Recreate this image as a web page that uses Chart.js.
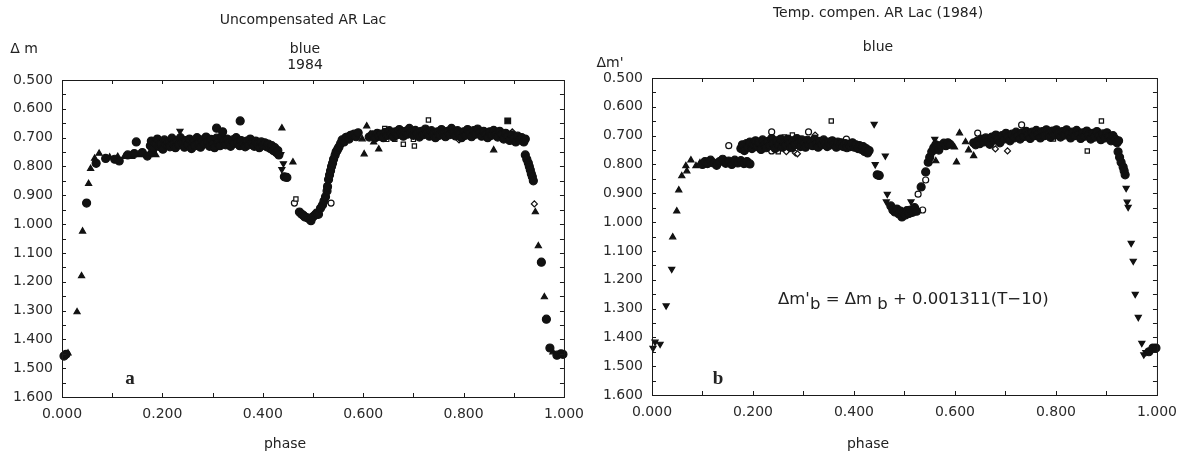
<!DOCTYPE html>
<html>
<head>
<meta charset="utf-8">
<script src="https://cdn.jsdelivr.net/npm/chart.js@4.4.1/dist/chart.umd.min.js"></script>
<style>
  body { margin: 0; background: #fff; width: 1186px; height: 460px; overflow: hidden; position: relative;
         font-family: "DejaVu Sans", sans-serif; color: #222; }
  .panel { position: absolute; top: 0; width: 593px; height: 460px; }
  .t { position: absolute; white-space: nowrap; transform: translate(-50%, -50%); font-size: 14px; }
  .tag { font-family: "Liberation Serif", serif; font-weight: bold; font-size: 19px; }
  .eq { position: absolute; white-space: nowrap; transform: translateY(-50%); font-size: 16.5px; }
  .eq sub { font-size: 16.5px; vertical-align: -5px; line-height: 0; }
</style>
</head>
<body>
<div class="panel" style="left:0"><canvas id="chartA"></canvas></div>
<div class="panel" style="left:593px"><canvas id="chartB"></canvas></div>

<div class="t" style="left:303px;top:19px">Uncompensated AR Lac</div>
<div class="t" style="left:305px;top:48px">blue</div>
<div class="t" style="left:305px;top:64px">1984</div>
<div class="t" style="left:24px;top:48px">Δ m</div>
<div class="t" style="left:285px;top:443px">phase</div>
<div class="t tag" style="left:130px;top:378px">a</div>

<div class="t" style="left:878px;top:12px">Temp. compen. AR Lac (1984)</div>
<div class="t" style="left:878px;top:46px">blue</div>
<div class="t" style="left:610px;top:62px">Δm'</div>
<div class="t" style="left:868px;top:443px">phase</div>
<div class="t tag" style="left:718px;top:378px">b</div>
<div class="eq" style="left:778px;top:298px">Δm'<sub>b</sub> = Δm<sub> b</sub> + 0.001311(T−10)</div>

<script>
// axis ticks
const yTickMarks = [0.55, 0.6, 0.65, 0.7, 0.75, 0.8, 0.85, 0.9, 0.95, 1.0, 1.05, 1.1, 1.15, 1.2, 1.25, 1.3, 1.35, 1.4, 1.45, 1.5, 1.55];
const xTickMarks = [0.1, 0.2, 0.3, 0.4, 0.5, 0.6, 0.7, 0.8, 0.9];

// ---- panel a : uncompensated ----
const aDotPhase = [0.004, 0.008, 0.965, 0.972, 0.986, 0.994, 0.998, 0.955,
  0.049, 0.068, 0.087, 0.105, 0.114, 0.131, 0.144, 0.148, 0.160, 0.170, 0.180,
  0.176, 0.178, 0.182, 0.186, 0.190, 0.193, 0.197, 0.201, 0.204, 0.208, 0.212, 0.215, 0.219, 0.222, 0.226, 0.229,
  0.233, 0.236, 0.240, 0.244, 0.247, 0.251, 0.254, 0.258, 0.262, 0.265, 0.269, 0.272, 0.276, 0.279, 0.283, 0.287,
  0.290, 0.294, 0.297, 0.301, 0.304, 0.308, 0.311, 0.315, 0.318, 0.322, 0.326, 0.329, 0.333, 0.336, 0.340, 0.343,
  0.347, 0.350, 0.354, 0.357, 0.361, 0.365, 0.368, 0.372, 0.375, 0.379, 0.383, 0.386, 0.390, 0.393, 0.397, 0.401,
  0.404, 0.408, 0.411, 0.415, 0.418, 0.421, 0.424, 0.427, 0.430, 0.432,
  0.308, 0.320, 0.355,
  0.443, 0.448, 0.473, 0.477, 0.481, 0.484, 0.489, 0.493, 0.496, 0.499, 0.503, 0.507, 0.511, 0.515, 0.519, 0.522,
  0.525, 0.528, 0.529, 0.531, 0.533, 0.535, 0.537, 0.539, 0.541, 0.544, 0.546, 0.548, 0.550, 0.552, 0.555, 0.558,
  0.562, 0.565, 0.568, 0.572, 0.575, 0.578, 0.582, 0.586, 0.590, 0.612, 0.618, 0.624, 0.628,
  0.632, 0.636, 0.640, 0.644, 0.648, 0.652, 0.656, 0.660, 0.664, 0.668, 0.672, 0.676, 0.680, 0.684, 0.688, 0.692,
  0.696, 0.700, 0.704, 0.708, 0.712, 0.716, 0.720, 0.724, 0.728, 0.732, 0.736, 0.740, 0.744, 0.748, 0.752, 0.756,
  0.760, 0.764, 0.768, 0.772, 0.776, 0.780, 0.784, 0.788, 0.792, 0.796, 0.800, 0.804, 0.808, 0.812, 0.816, 0.820,
  0.824, 0.828, 0.832, 0.836, 0.840, 0.844, 0.848, 0.852, 0.856, 0.860, 0.864, 0.868, 0.872, 0.876, 0.880, 0.884,
  0.888, 0.892, 0.896, 0.900, 0.904, 0.908, 0.912, 0.916, 0.920, 0.923,
  0.923, 0.926, 0.929, 0.931, 0.933, 0.935, 0.937, 0.939];
const aDotMag = [1.458, 1.452, 1.330, 1.430, 1.455, 1.450, 1.452, 1.132,
  0.927, 0.789, 0.772, 0.775, 0.781, 0.760, 0.755, 0.715, 0.752, 0.764, 0.752,
  0.728, 0.712, 0.738, 0.718, 0.705, 0.730, 0.722, 0.740, 0.708, 0.725, 0.715, 0.732, 0.702, 0.722, 0.735, 0.712,
  0.725, 0.700, 0.718, 0.733, 0.710, 0.724, 0.705, 0.738, 0.716, 0.728, 0.700, 0.720, 0.733, 0.708, 0.722, 0.698,
  0.715, 0.730, 0.706, 0.720, 0.735, 0.702, 0.718, 0.728, 0.698, 0.712, 0.725, 0.705, 0.718, 0.730, 0.708, 0.720,
  0.700, 0.715, 0.728, 0.710, 0.722, 0.732, 0.712, 0.725, 0.705, 0.718, 0.730, 0.712, 0.722, 0.735, 0.715, 0.726,
  0.718, 0.732, 0.722, 0.738, 0.728, 0.745, 0.735, 0.752, 0.745, 0.760,
  0.667, 0.680, 0.642,
  0.836, 0.838, 0.958, 0.965, 0.970, 0.975, 0.978, 0.982, 0.988, 0.976, 0.970, 0.962, 0.966, 0.945, 0.934, 0.920,
  0.905, 0.885, 0.870, 0.845, 0.830, 0.815, 0.800, 0.789, 0.775, 0.761, 0.750, 0.745, 0.738, 0.732, 0.720, 0.708,
  0.715, 0.700, 0.698, 0.705, 0.692, 0.691, 0.688, 0.697, 0.683, 0.698, 0.690, 0.700, 0.685,
  0.695, 0.688, 0.700, 0.682, 0.692, 0.676, 0.688, 0.698, 0.680, 0.690, 0.672, 0.685, 0.695, 0.678, 0.688, 0.668,
  0.682, 0.692, 0.675, 0.686, 0.698, 0.678, 0.690, 0.670, 0.684, 0.695, 0.676, 0.688, 0.700, 0.680, 0.692, 0.672,
  0.686, 0.697, 0.678, 0.690, 0.668, 0.683, 0.694, 0.676, 0.688, 0.700, 0.680, 0.692, 0.672, 0.686, 0.697, 0.676,
  0.688, 0.670, 0.684, 0.695, 0.678, 0.690, 0.700, 0.680, 0.692, 0.675, 0.688, 0.698, 0.678, 0.690, 0.705, 0.685,
  0.695, 0.710, 0.690, 0.702, 0.715, 0.695, 0.708, 0.700, 0.715, 0.705,
  0.760, 0.775, 0.788, 0.800, 0.812, 0.825, 0.836, 0.850];

const aTriPhase = [0.012, 0.030, 0.039, 0.041, 0.053, 0.057, 0.065, 0.074, 0.095, 0.111, 0.124, 0.139, 0.153, 0.187,
  0.438, 0.460, 0.598, 0.602, 0.607, 0.614, 0.621, 0.631, 0.860, 0.943, 0.949, 0.961, 0.978];
const aTriMag = [1.448, 1.305, 1.180, 1.025, 0.860, 0.808, 0.772, 0.755, 0.768, 0.766, 0.766, 0.766, 0.760, 0.760,
  0.667, 0.785, 0.705, 0.757, 0.660, 0.688, 0.716, 0.740, 0.743, 0.958, 1.076, 1.253, 1.444];

const aInvPhase = [0.235, 0.436, 0.441, 0.438];
const aInvMag = [0.677, 0.758, 0.790, 0.810];

const aSqPhase = [0.466, 0.527, 0.633, 0.643, 0.647, 0.663, 0.680, 0.700, 0.702, 0.730];
const aSqMag = [0.913, 0.868, 0.700, 0.668, 0.706, 0.706, 0.723, 0.706, 0.729, 0.639];

const aRingPhase = [0.463, 0.509, 0.536, 0.190];
const aRingMag = [0.927, 0.962, 0.927, 0.718];

const aDiaPhase = [0.791, 0.897, 0.941];
const aDiaMag = [0.708, 0.680, 0.930];

const aBoxPhase = [0.888];
const aBoxMag = [0.642];

// ---- panel b : temperature compensated ----
const bDotPhase = [0.100, 0.105, 0.110, 0.116, 0.122, 0.128, 0.134, 0.140, 0.146, 0.152, 0.158, 0.164, 0.170, 0.176,
  0.182, 0.188, 0.194,
  0.176, 0.179, 0.183, 0.187, 0.190, 0.194, 0.198, 0.201, 0.205, 0.208, 0.212, 0.216, 0.219, 0.223, 0.226, 0.230,
  0.233, 0.237, 0.240, 0.244, 0.247, 0.251, 0.255, 0.258, 0.262, 0.265, 0.269, 0.272, 0.276, 0.280, 0.283, 0.287,
  0.290, 0.294, 0.297, 0.301, 0.304, 0.308, 0.311, 0.315, 0.318, 0.322, 0.326, 0.329, 0.333, 0.336, 0.340, 0.343,
  0.347, 0.350, 0.354, 0.357, 0.361, 0.365, 0.368, 0.372, 0.375, 0.379, 0.383, 0.386, 0.390, 0.393, 0.397, 0.401,
  0.404, 0.408, 0.411, 0.415, 0.418, 0.421, 0.424, 0.427, 0.430,
  0.446, 0.450, 0.473, 0.477, 0.481, 0.485, 0.489, 0.492, 0.495, 0.498, 0.502, 0.505, 0.509, 0.512, 0.516, 0.520, 0.524,
  0.533, 0.542, 0.547, 0.550, 0.554, 0.558, 0.562, 0.565, 0.568, 0.572, 0.578, 0.582, 0.586, 0.590,
  0.637, 0.641, 0.645, 0.649, 0.653, 0.657, 0.661, 0.665, 0.669, 0.673, 0.677, 0.681, 0.685, 0.689, 0.693, 0.697,
  0.701, 0.705, 0.709, 0.713, 0.717, 0.721, 0.725, 0.729, 0.733, 0.737, 0.741, 0.745, 0.749, 0.753, 0.757, 0.761,
  0.765, 0.769, 0.773, 0.777, 0.781, 0.785, 0.789, 0.793, 0.797, 0.801, 0.805, 0.809, 0.813, 0.817, 0.821, 0.825,
  0.829, 0.833, 0.837, 0.841, 0.845, 0.849, 0.853, 0.857, 0.861, 0.865, 0.869, 0.873, 0.877, 0.881, 0.885, 0.889,
  0.893, 0.897, 0.901, 0.905, 0.909, 0.913, 0.917, 0.921, 0.924,
  0.923, 0.926, 0.929, 0.933, 0.935, 0.937, 0.984, 0.992, 0.998];
const bDotMag = [0.800, 0.790, 0.797, 0.785, 0.795, 0.803, 0.790, 0.782, 0.796, 0.788, 0.800, 0.785, 0.795, 0.787,
  0.797, 0.790, 0.798,
  0.745, 0.732, 0.752, 0.728, 0.740, 0.722, 0.745, 0.730, 0.718, 0.738, 0.725, 0.748, 0.715, 0.732, 0.742, 0.720,
  0.735, 0.710, 0.728, 0.745, 0.718, 0.732, 0.712, 0.740, 0.725, 0.735, 0.712, 0.728, 0.742, 0.718, 0.732, 0.710,
  0.725, 0.738, 0.715, 0.728, 0.740, 0.716, 0.730, 0.722, 0.735, 0.712, 0.728, 0.740, 0.720, 0.732, 0.715, 0.728,
  0.738, 0.722, 0.732, 0.718, 0.730, 0.740, 0.722, 0.735, 0.725, 0.738, 0.728, 0.742, 0.730, 0.738, 0.725, 0.740,
  0.732, 0.745, 0.735, 0.748, 0.738, 0.755, 0.745, 0.760, 0.752,
  0.836, 0.838, 0.944, 0.958, 0.965, 0.955, 0.972, 0.962, 0.982, 0.968, 0.975, 0.960, 0.970, 0.958, 0.966, 0.950, 0.962,
  0.878, 0.826, 0.792, 0.775, 0.756, 0.742, 0.732, 0.740, 0.750, 0.735, 0.726, 0.735, 0.725, 0.730,
  0.725, 0.732, 0.718, 0.728, 0.712, 0.722, 0.708, 0.720, 0.730, 0.705, 0.716, 0.698, 0.712, 0.725, 0.700, 0.712,
  0.692, 0.705, 0.718, 0.695, 0.708, 0.688, 0.700, 0.712, 0.690, 0.703, 0.685, 0.698, 0.710, 0.688, 0.700, 0.682,
  0.695, 0.708, 0.686, 0.700, 0.680, 0.694, 0.706, 0.684, 0.698, 0.680, 0.692, 0.705, 0.686, 0.698, 0.680, 0.694,
  0.708, 0.688, 0.700, 0.682, 0.695, 0.710, 0.690, 0.702, 0.684, 0.698, 0.712, 0.692, 0.705, 0.686, 0.700, 0.714,
  0.694, 0.708, 0.690, 0.704, 0.718, 0.700, 0.712, 0.725, 0.718,
  0.756, 0.775, 0.792, 0.809, 0.822, 0.836, 1.450, 1.437, 1.437];

const bTriPhase = [0.041, 0.049, 0.053, 0.059, 0.067, 0.069, 0.077, 0.087, 0.095, 0.192,
  0.562, 0.599, 0.603, 0.609, 0.621, 0.627, 0.637];
const bTriMag = [1.052, 0.962, 0.889, 0.840, 0.805, 0.823, 0.785, 0.805, 0.795, 0.802,
  0.788, 0.740, 0.792, 0.691, 0.722, 0.750, 0.770];

const bInvPhase = [0.002, 0.006, 0.016, 0.028, 0.039, 0.440, 0.442, 0.462, 0.464, 0.466, 0.513, 0.560,
  0.939, 0.941, 0.943, 0.949, 0.953, 0.957, 0.963, 0.970, 0.974, 0.978];
const bInvMag = [1.437, 1.416, 1.423, 1.290, 1.163, 0.660, 0.800, 0.770, 0.929, 0.903, 0.929, 0.712,
  0.882, 0.930, 0.948, 1.073, 1.135, 1.250, 1.330, 1.420, 1.460, 1.452];

const bSqPhase = [0.250, 0.262, 0.278, 0.355, 0.795, 0.862, 0.890];
const bSqMag = [0.756, 0.705, 0.698, 0.649, 0.712, 0.753, 0.649];

const bRingPhase = [0.152, 0.237, 0.310, 0.385, 0.527, 0.536, 0.542, 0.645, 0.732, 0.237];
const bRingMag = [0.735, 0.687, 0.687, 0.712, 0.903, 0.958, 0.854, 0.691, 0.663, 0.753];

const bDiaPhase = [0.266, 0.284, 0.288, 0.323, 0.680, 0.704];
const bDiaMag = [0.756, 0.760, 0.763, 0.698, 0.746, 0.753];

function pts(px, my) {
  return px.map((p, i) => ({ x: p, y: my[i] }));
}

function set(px, my, style, r, fill, rot) {
  return {
    data: pts(px, my),
    pointStyle: style,
    pointRadius: r,
    pointRotation: rot || 0,
    backgroundColor: fill ? "#111" : "#fff",
    borderColor: "#111",
    borderWidth: 1.2,
    showLine: false,
    clip: false,
  };
}

const frameTicks = {
  id: "frameTicks",
  afterDatasetsDraw(chart) {
    const { ctx, chartArea: a, scales } = chart;
    ctx.save();
    ctx.strokeStyle = "#1a1a1a";
    ctx.lineWidth = 1;
    ctx.strokeRect(a.left + 0.5, a.top + 0.5, a.right - a.left, a.bottom - a.top);
    ctx.beginPath();
    yTickMarks.forEach((v) => {
      const p = Math.round(scales.y.getPixelForValue(v)) + 0.5;
      ctx.moveTo(a.left, p);
      ctx.lineTo(a.left + 4, p);
      ctx.moveTo(a.right, p);
      ctx.lineTo(a.right - 4, p);
    });
    xTickMarks.forEach((v) => {
      const p = Math.round(scales.x.getPixelForValue(v)) + 0.5;
      ctx.moveTo(p, a.bottom);
      ctx.lineTo(p, a.bottom - 4);
      ctx.moveTo(p, a.top);
      ctx.lineTo(p, a.top + 4);
    });
    ctx.stroke();
    ctx.restore();
  },
};

const tickFont = { family: "DejaVu Sans", size: 14 };

function makeChart(id, datasets, pad, yWidth, xHeight) {
  return new Chart(document.getElementById(id), {
    type: "scatter",
    data: { datasets: datasets },
    options: {
      responsive: true,
      maintainAspectRatio: false,
      animation: false,
      devicePixelRatio: 1,
      layout: { padding: pad },
      plugins: { legend: { display: false }, tooltip: { enabled: false } },
      scales: {
        x: {
          type: "linear",
          min: 0,
          max: 1,
          grid: { display: false, drawTicks: false },
          border: { display: false },
          ticks: {
            stepSize: 0.2,
            padding: 9,
            maxRotation: 0,
            autoSkip: false,
            color: "#2a2a2a",
            font: tickFont,
            callback: (v) => v.toFixed(3),
          },
          afterFit: (s) => { s.height = xHeight; },
        },
        y: {
          type: "linear",
          reverse: true,
          min: 0.5,
          max: 1.6,
          grid: { display: false, drawTicks: false },
          border: { display: false },
          ticks: {
            stepSize: 0.1,
            padding: 9,
            autoSkip: false,
            color: "#2a2a2a",
            font: tickFont,
            callback: (v) => v.toFixed(3),
          },
          afterFit: (s) => { s.width = yWidth; },
        },
      },
    },
    plugins: [frameTicks],
  });
}

makeChart("chartA", [
  set(aDotPhase, aDotMag, "circle", 4, true),
  set(aTriPhase, aTriMag, "triangle", 3.5, true),
  set(aInvPhase, aInvMag, "triangle", 3.5, true, 180),
  set(aBoxPhase, aBoxMag, "rect", 4, true),
  set(aSqPhase, aSqMag, "rect", 3, false),
  set(aRingPhase, aRingMag, "circle", 3, false),
  set(aDiaPhase, aDiaMag, "rectRot", 3, false),
], { top: 80, right: 24, bottom: 0, left: 0 }, 62, 63);

makeChart("chartB", [
  set(bDotPhase, bDotMag, "circle", 4, true),
  set(bTriPhase, bTriMag, "triangle", 3.5, true),
  set(bInvPhase, bInvMag, "triangle", 3.5, true, 180),
  set(bSqPhase, bSqMag, "rect", 3, false),
  set(bRingPhase, bRingMag, "circle", 3, false),
  set(bDiaPhase, bDiaMag, "rectRot", 3, false),
], { top: 78, right: 27, bottom: 0, left: 0 }, 59, 65);
</script>
</body>
</html>
